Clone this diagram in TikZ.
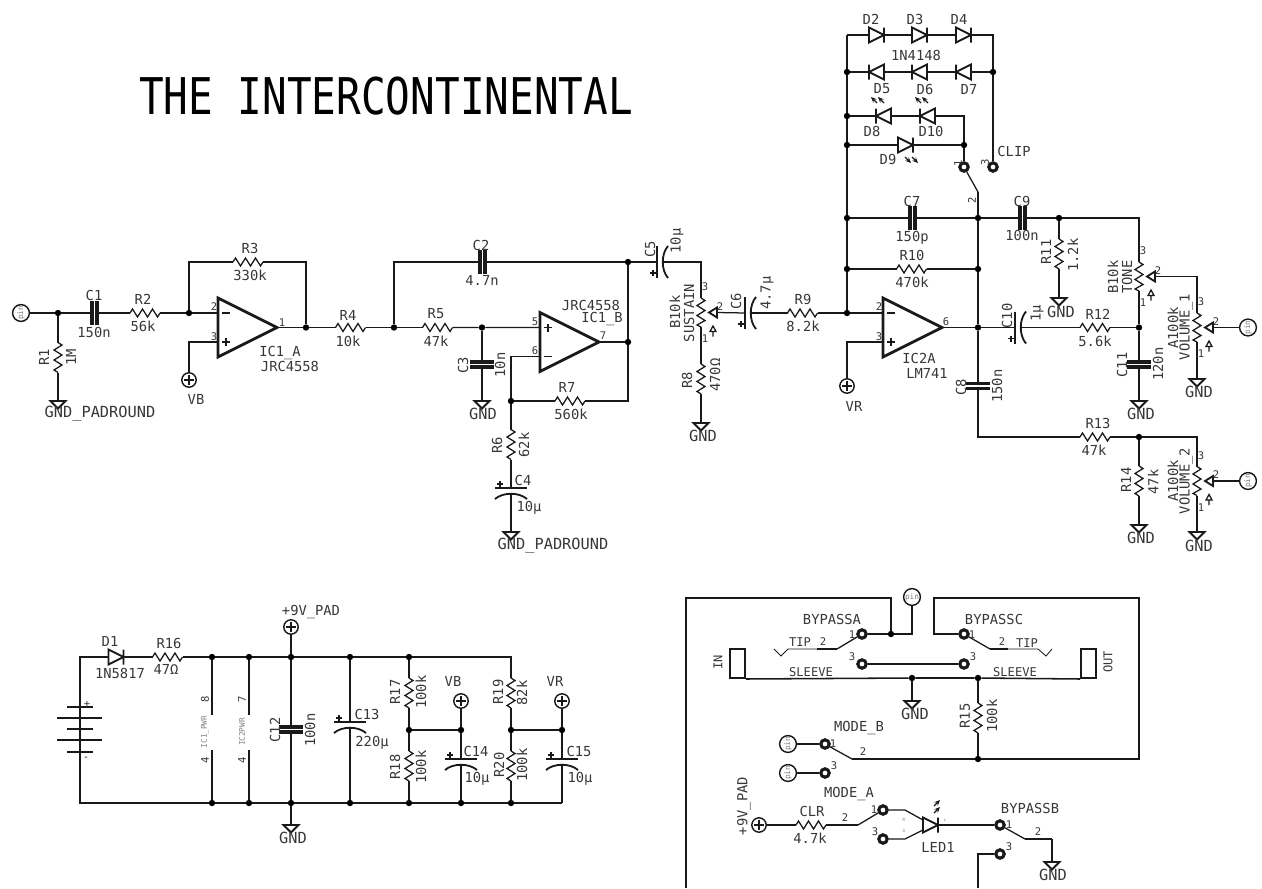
\documentclass[tikz,border=0pt]{standalone}
\usepackage{xcolor}
\usepackage{tikz}
\usepackage{fontspec}
\setmainfont{DejaVu Sans Mono}
\definecolor{wirecol}{RGB}{25, 25, 25}
\definecolor{textcol}{RGB}{55, 55, 55}
\usetikzlibrary{arrows.meta, positioning, calc}

\begin{document}
\begin{tikzpicture}[
        x=0.025cm, y=-0.025cm,
        wire/.style={draw=wirecol, line width=0.9pt},
        heavy/.style={draw=wirecol, line width=2.2pt},
        body/.style={draw=wirecol, line width=1.3pt},
        jn/.style={circle, fill=black, inner sep=0pt, minimum size=0.16cm},
        pad/.style={circle, draw=wirecol, line width=2.2pt, inner sep=0pt, minimum size=0.21cm},
        pinout/.style={circle, draw=wirecol, line width=1pt, fill=white, inner sep=0pt, minimum size=0.42cm, font=\fontsize{5.5}{6}\selectfont, text=gray, rotate=90},
        pwrpin/.style={circle, draw=wirecol, line width=1pt, inner sep=0pt, minimum size=0.36cm, path picture={\draw[wire, shorten <=1.5pt, shorten >=1.5pt] (path picture bounding box.west) -- (path picture bounding box.east); \draw[wire, shorten <=1.5pt, shorten >=1.5pt] (path picture bounding box.north) -- (path picture bounding box.south);}},
        lbl/.style={inner sep=0pt, text=textcol, font=\fontsize{9.8}{12}\selectfont},
        vlbl/.style={lbl, rotate=90},
        gndlbl/.style={inner sep=0pt, text=textcol, font=\fontsize{10.9}{13}\selectfont},
        pinlbl/.style={inner sep=0pt, text=textcol, font=\fontsize{7.5}{9}\selectfont},
        smalllbl/.style={inner sep=0pt, text=textcol, font=\fontsize{8.6}{10}\selectfont},
        faint/.style={inner sep=0pt, text=gray, font=\fontsize{5.5}{6}\selectfont},
        resi/.pic={\draw[wire] (-15,0) coordinate (-a) -- (-12.5,-4) -- (-7.5,4) -- (-2.5,-4) -- (2.5,4) -- (7.5,-4) -- (12.5,4) -- (15,0) coordinate (-b);},
        capa/.pic={\draw[heavy] (-2.5,-12) -- (-2.5,12) (2.5,-12) -- (2.5,12); \coordinate (-a) at (-2.5,0); \coordinate (-b) at (2.5,0);},
        ecapa/.pic={\draw[body] (-16,0) -- (16,0); \draw[body] (-16,11) .. controls (-8,4) and (8,4) .. (16,11); \draw[wire] (-14,-4) -- (-8,-4) (-11,-7) -- (-11,-1); \coordinate (-a) at (0,0); \coordinate (-b) at (0,6);},
        diod/.pic={\draw[body] (-7.5,-7.5) -- (-7.5,7.5) -- (7.5,0) -- cycle (7.5,-7.5) -- (7.5,7.5); \coordinate (-a) at (-7.5,0); \coordinate (-k) at (7.5,0);},
        ledarr/.pic={\draw[wire, -{Stealth[length=4pt, width=3.5pt]}] (-2,3) -- (-8,-3); \draw[wire, -{Stealth[length=4pt, width=3.5pt]}] (5,3) -- (-1,-3);},
        gndtri/.pic={\draw[body] (-7.5,0) -- (7.5,0) -- (0,7.5) -- cycle; \coordinate (-t) at (0,0);},
        ampl/.pic={\draw[draw=wirecol, line width=2pt] (0,-29.5) -- (59,0) -- (0,29.5) -- cycle; \draw[wire] (4,-14.5) -- (12,-14.5) (4,14.5) -- (12,14.5) (8,10.5) -- (8,18.5); \coordinate (-n) at (0,-14.5); \coordinate (-p) at (0,14.5); \coordinate (-o) at (59,0);},
        potm/.pic={\draw[wire] (0,-14.5) coordinate (-a) -- (4,-12) -- (-4,-7) -- (4,-2) -- (-4,3) -- (4,8) -- (-4,12.5) -- (0,14.5) coordinate (-b);
            \draw[body] (8,0) -- (16,-5) -- (16,5) -- cycle; \coordinate (-w) at (16,0);
            \draw[wire] (12,13.5) -- (15,19) -- (9,19) -- cycle (12,19) -- (12,24);
            \node[pinlbl] (-la) at (4,-25.5) {3}; \node[pinlbl] (-lb) at (4,26.5) {1}; \node[pinlbl] (-lc) at (19,-6) {2};}
    ]
        \useasboundingbox (0,0) rectangle (1262,888);
        \node[inner sep=0pt, text=black, font=\fontsize{36}{40}\selectfont] (title) at (386,96) {\scalebox{.81}[1]{THE INTERCONTINENTAL}};

        % input stage
        \node[pinout] (pina) at (21,313) {pin};
        \node[jn] (ja) at (58,313) {};
        \node[jn] (jb) at (189,313) {};
        \node[jn] (jc) at (306,327.5) {};
        \node[jn] (jd) at (394,327.5) {};
        \node[pwrpin] (vb) at (189,380) {};
        \pic (c1) at (94.5,313) {capa};
        \pic (r2) at (145,313) {resi};
        \pic (r3) at (248,262) {resi};
        \pic (r4) at (350.5,327.5) {resi};
        \pic[rotate=-90] (r1) at (58,357.5) {resi};
        \pic (g1) at (58,401) {gndtri};
        \pic (ic1a) at (218,327.5) {ampl};
        \draw[wire] (pina) -- (ja) -- (c1-a);
        \draw[wire] (c1-b) -- (r2-a);
        \draw[wire] (r2-b) -- (jb) -- (ic1a-n);
        \draw[wire] (ja) -- (r1-a);
        \draw[wire] (r1-b) -- (g1-t);
        \draw[wire] (jb) |- (r3-a);
        \draw[wire] (r3-b) -| (jc);
        \draw[wire] (ic1a-o) -- (jc) -- (r4-a);
        \draw[wire] (r4-b) -- (jd);
        \draw[wire] (vb) |- (ic1a-p);
        \node[lbl] (c1l) at (94,295) {C1};
        \node[lbl] (c1v) at (94,332) {150n};
        \node[lbl] (r2l) at (143,299) {R2};
        \node[lbl] (r2v) at (143,326) {56k};
        \node[lbl] (r3l) at (250,248) {R3};
        \node[lbl] (r3v) at (250,275) {330k};
        \node[lbl] (r4l) at (348,315) {R4};
        \node[lbl] (r4v) at (348,341) {10k};
        \node[vlbl] (r1l) at (44,357) {R1};
        \node[vlbl] (r1v) at (71,357) {1M};
        \node[gndlbl] (g1l) at (100,414) {GND\_PADROUND};
        \node[lbl] (vbl) at (196,399) {VB};
        \node[lbl] (ic1al) at (280,353) {IC1\_A};
        \node[lbl] (ic1av) at (290,366) {JRC4558};
        \node[pinlbl] (ic1aa) at (214,307) {2};
        \node[pinlbl] (ic1ab) at (214,337) {3};
        \node[pinlbl] (ic1ac) at (282,323) {1};

        % second stage
        \node[jn] (je) at (628,262) {};
        \node[jn] (jf) at (482,327.5) {};
        \node[jn] (jg) at (628,342) {};
        \node[jn] (jh) at (511,401) {};
        \pic (c2) at (482.5,262) {capa};
        \pic[rotate=90] (c5) at (657,262) {ecapa};
        \pic (potb) at (701,312.5) {potm};
        \pic (r5) at (437.5,327.5) {resi};
        \pic (r7) at (570,401) {resi};
        \pic[yscale=-1] (ic1b) at (540,342) {ampl};
        \pic[rotate=-90] (c3) at (482,364.5) {capa};
        \pic (g2) at (482,401) {gndtri};
        \pic[rotate=-90] (r6) at (511,444.5) {resi};
        \pic (c4) at (511,488) {ecapa};
        \pic (g3) at (511,532) {gndtri};
        \pic[rotate=-90] (r8) at (701,379) {resi};
        \pic (g4) at (701,423) {gndtri};
        \pic[rotate=90] (c6) at (745,313) {ecapa};
        \pic (r9) at (802.5,313) {resi};
        \draw[wire] (jd) |- (c2-a);
        \draw[wire] (c2-b) -- (je) -- (c5-a);
        \draw[wire] (c5-b) -| (potb-a);
        \draw[wire] (jd) -- (r5-a);
        \draw[wire] (r5-b) -- (jf) -- (ic1b-p);
        \draw[wire] (ic1b-o) -- (jg);
        \draw[wire] (je) -- (jg);
        \draw[wire] (jg) |- (r7-b);
        \draw[wire] (r7-a) -- (jh);
        \draw[wire] (jh) |- (ic1b-n);
        \draw[wire] (jf) -- (c3-a);
        \draw[wire] (c3-b) -- (g2-t);
        \draw[wire] (jh) -- (r6-a);
        \draw[wire] (r6-b) -- (c4-a);
        \draw[wire] (c4-b) -- (g3-t);
        \draw[wire] (potb-b) -- (r8-a);
        \draw[wire] (r8-b) -- (g4-t);
        \draw[wire] (potb-w) -- (c6-a);
        \draw[wire] (c6-b) -- (r9-a);
        \node[lbl] (c2l) at (481,245) {C2};
        \node[lbl] (c2v) at (482,280) {4.7n};
        \node[vlbl] (c5l) at (650,249) {C5};
        \node[vlbl] (c5v) at (677,241) {10µ};
        \node[vlbl] (potbl) at (675,312) {B10k};
        \node[vlbl] (potbv) at (689,313) {SUSTAIN};
        \node[lbl] (r5l) at (436,314) {R5};
        \node[lbl] (r5v) at (436,341) {47k};
        \node[vlbl] (c3l) at (463,365) {C3};
        \node[vlbl] (c3v) at (500,365) {10n};
        \node[gndlbl] (g2l) at (483,414) {GND};
        \node[lbl] (r7l) at (567,387) {R7};
        \node[lbl] (r7v) at (571,414) {560k};
        \node[vlbl] (r6l) at (497,445) {R6};
        \node[vlbl] (r6v) at (524,445) {62k};
        \node[lbl] (c4l) at (523,480) {C4};
        \node[lbl] (c4v) at (529,508) {10µ};
        \node[gndlbl] (g3l) at (553,546) {GND\_PADROUND};
        \node[lbl] (ic1bv) at (591,305) {JRC4558};
        \node[lbl] (ic1bl) at (602,319) {IC1\_B};
        \node[pinlbl] (ic1ba) at (535,322) {5};
        \node[pinlbl] (ic1bb) at (535,351) {6};
        \node[pinlbl] (ic1bc) at (603,336) {7};
        \node[vlbl] (r8l) at (687,380) {R8};
        \node[vlbl] (r8v) at (715,375) {470Ω};
        \node[gndlbl] (g4l) at (703,436) {GND};
        \node[vlbl] (c6l) at (736,301) {C6};
        \node[vlbl] (c6v) at (767,293) {4.7µ};
        \node[lbl] (r9l) at (803,299) {R9};
        \node[lbl] (r9v) at (803,326) {8.2k};

        % clipping diodes
        \coordinate (tl) at (847,35);
        \coordinate (tr) at (993,35);
        \coordinate (swc) at (978,192);
        \node[jn] (rla) at (847,72) {};
        \node[jn] (rlb) at (847,116) {};
        \node[jn] (rlc) at (847,145) {};
        \node[jn] (rld) at (847,218) {};
        \node[jn] (rle) at (847,269) {};
        \node[jn] (rlf) at (847,313) {};
        \node[jn] (rra) at (993,72) {};
        \node[jn] (jk) at (964,145) {};
        \node[pad] (clipa) at (964,167) {};
        \node[pad] (clipb) at (993,167) {};
        \pic (d2) at (876.5,35) {diod};
        \pic (d3) at (919.5,35) {diod};
        \pic (d4) at (963.5,35) {diod};
        \pic[rotate=180] (d5) at (876.5,72) {diod};
        \pic[rotate=180] (d6) at (919.5,72) {diod};
        \pic[rotate=180] (d7) at (963.5,72) {diod};
        \pic[rotate=180] (d8) at (883.5,116) {diod};
        \pic[rotate=180] (d10) at (927.5,116) {diod};
        \pic (d9) at (905.5,145) {diod};
        \pic (ld5) at (879,100) {ledarr};
        \pic (ld6) at (923,100) {ledarr};
        \pic[rotate=180] (ld9) at (910,160) {ledarr};
        \draw[wire] (tl) -- (rla) -- (rlb) -- (rlc) -- (rld) -- (rle) -- (rlf);
        \draw[wire] (tl) -- (d2-a);
        \draw[wire] (d2-k) -- (d3-a);
        \draw[wire] (d3-k) -- (d4-a);
        \draw[wire] (d4-k) -- (tr) -- (rra) -- (clipb);
        \draw[wire] (rla) -- (d5-k);
        \draw[wire] (d5-a) -- (d6-k);
        \draw[wire] (d6-a) -- (d7-k);
        \draw[wire] (d7-a) -- (rra);
        \draw[wire] (rlb) -- (d8-k);
        \draw[wire] (d8-a) -- (d10-k);
        \draw[wire] (d10-a) -| (jk);
        \draw[wire] (rlc) -- (d9-a);
        \draw[wire] (d9-k) -- (jk) -- (clipa);
        \draw[wire] (clipa) -- (swc);
        \node[lbl] (d2l) at (871,19) {D2};
        \node[lbl] (d3l) at (915,19) {D3};
        \node[lbl] (d4l) at (959,19) {D4};
        \node[lbl] (dv) at (916,55) {1N4148};
        \node[lbl] (d5l) at (882,89) {D5};
        \node[lbl] (d6l) at (925,89) {D6};
        \node[lbl] (d7l) at (969,89) {D7};
        \node[lbl] (d8l) at (872,131) {D8};
        \node[lbl] (d10l) at (931,131) {D10};
        \node[lbl] (d9l) at (888,159) {D9};
        \node[lbl] (clipl) at (1014,151) {CLIP};
        \node[pinlbl, rotate=90] (clipc) at (958,163) {1};
        \node[pinlbl, rotate=90] (clipd) at (985,162) {3};
        \node[pinlbl, rotate=90] (clipe) at (972,200) {2};

        % output stage
        \node[jn] (jl) at (978,218) {};
        \node[jn] (jm) at (978,269) {};
        \node[jn] (jn1) at (978,327.5) {};
        \node[jn] (jo) at (1059,218) {};
        \node[jn] (jp) at (1139,327.5) {};
        \node[jn] (jq) at (1139,437) {};
        \node[pwrpin] (vr) at (847,386) {};
        \node[pinout] (pinb) at (1248,327.5) {pin};
        \node[pinout] (pinc) at (1248,481) {pin};
        \pic (ic2) at (883,327.5) {ampl};
        \pic (c7) at (912.5,218) {capa};
        \pic (c9) at (1022.5,218) {capa};
        \pic (r10) at (911.5,269) {resi};
        \pic[rotate=-90] (c8) at (978,386) {capa};
        \pic[rotate=-90] (r11) at (1059,254) {resi};
        \pic (g5) at (1059,298) {gndtri};
        \pic (pott) at (1139,276.5) {potm};
        \pic (potv) at (1197,327.5) {potm};
        \pic (g7) at (1197,379) {gndtri};
        \pic[rotate=90] (c10) at (1015,327.5) {ecapa};
        \pic (r12) at (1095,327.5) {resi};
        \pic[rotate=-90] (c11) at (1139,364.5) {capa};
        \pic (g6) at (1139,401) {gndtri};
        \pic (r13) at (1095,437) {resi};
        \pic[rotate=-90] (r14) at (1139,481) {resi};
        \pic (g8) at (1139,525) {gndtri};
        \pic (potw) at (1197,481) {potm};
        \pic (g9) at (1197,532) {gndtri};
        \draw[wire] (rlf) -- (ic2-n);
        \draw[wire] (r9-b) -- (rlf);
        \draw[wire] (vr) |- (ic2-p);
        \draw[wire] (swc) -- (jl) -- (jm) -- (jn1) -- (c8-a);
        \draw[wire] (c8-b) |- (r13-a);
        \draw[wire] (rld) -- (c7-a);
        \draw[wire] (c7-b) -- (jl) -- (c9-a);
        \draw[wire] (c9-b) -- (jo);
        \draw[wire] (jo) -| (pott-a);
        \draw[wire] (jo) -- (r11-a);
        \draw[wire] (r11-b) -- (g5-t);
        \draw[wire] (rle) -- (r10-a);
        \draw[wire] (r10-b) -- (jm);
        \draw[wire] (ic2-o) -- (jn1) -- (c10-a);
        \draw[wire] (c10-b) -- (r12-a);
        \draw[wire] (r12-b) -- (jp);
        \draw[wire] (pott-b) -- (jp) -- (c11-a);
        \draw[wire] (c11-b) -- (g6-t);
        \draw[wire] (pott-w) -| (potv-a);
        \draw[wire] (potv-w) -- (pinb);
        \draw[wire] (potv-b) -- (g7-t);
        \draw[wire] (r13-b) -- (jq);
        \draw[wire] (jq) -| (potw-a);
        \draw[wire] (jq) -- (r14-a);
        \draw[wire] (r14-b) -- (g8-t);
        \draw[wire] (potw-b) -- (g9-t);
        \draw[wire] (potw-w) -- (pinc);
        \node[lbl] (c7l) at (912,201) {C7};
        \node[lbl] (c7v) at (912,238) {150p};
        \node[lbl] (c9l) at (1022,201) {C9};
        \node[lbl] (c9v) at (1022,235) {100n};
        \node[lbl] (r10l) at (912,255) {R10};
        \node[lbl] (r10v) at (912,282) {470k};
        \node[pinlbl] (ic2a) at (879,307) {2};
        \node[pinlbl] (ic2b) at (879,337) {3};
        \node[pinlbl] (ic2c) at (946,322) {6};
        \node[lbl] (ic2l) at (919,358) {IC2A};
        \node[lbl] (ic2v) at (927,373) {LM741};
        \node[lbl] (vrl) at (854,406) {VR};
        \node[vlbl] (c8l) at (961,387) {C8};
        \node[vlbl] (c8v) at (997,386) {150n};
        \node[vlbl] (r11l) at (1046,252) {R11};
        \node[vlbl] (r11v) at (1073,255) {1.2k};
        \node[gndlbl] (g5l) at (1061,312) {GND};
        \node[vlbl] (potta) at (1113,277) {B10k};
        \node[vlbl] (pottb) at (1127,277) {TONE};
        \node[vlbl] (potva) at (1173,328) {A100k};
        \node[vlbl] (potvb) at (1186,327) {VOLUME\_1};
        \node[gndlbl] (g7l) at (1199,392) {GND};
        \node[vlbl] (c10l) at (1007,316) {C10};
        \node[vlbl] (c10v) at (1037,313) {1µ};
        \node[lbl] (r12l) at (1098,314) {R12};
        \node[lbl] (r12v) at (1095,341) {5.6k};
        \node[vlbl] (c11l) at (1122,365) {C11};
        \node[vlbl] (c11v) at (1158,364) {120n};
        \node[gndlbl] (g6l) at (1141,414) {GND};
        \node[lbl] (r13l) at (1098,423) {R13};
        \node[lbl] (r13v) at (1094,450) {47k};
        \node[vlbl] (r14l) at (1126,480) {R14};
        \node[vlbl] (r14v) at (1153,482) {47k};
        \node[gndlbl] (g8l) at (1141,538) {GND};
        \node[vlbl] (potwa) at (1173,481) {A100k};
        \node[vlbl] (potwb) at (1186,481) {VOLUME\_2};
        \node[gndlbl] (g9l) at (1199,546) {GND};

        % power supply
        \coordinate (ptl) at (80,657);
        \coordinate (pbl) at (80,803);
        \coordinate (ptr) at (511,657);
        \coordinate (pbr) at (562,803);
        \coordinate (bata) at (80,685);
        \coordinate (batb) at (80,773);
        \node[jn] (ta) at (212,657) {};
        \node[jn] (tb) at (249,657) {};
        \node[jn] (tc) at (291,657) {};
        \node[jn] (td) at (350,657) {};
        \node[jn] (te) at (409,657) {};
        \node[jn] (ba) at (212,803) {};
        \node[jn] (bb) at (249,803) {};
        \node[jn] (bc) at (291,803) {};
        \node[jn] (bd) at (350,803) {};
        \node[jn] (be) at (409,803) {};
        \node[jn] (bf) at (461,803) {};
        \node[jn] (bg) at (511,803) {};
        \node[jn] (ma) at (409,730) {};
        \node[jn] (mb) at (461,730) {};
        \node[jn] (mc) at (511,730) {};
        \node[jn] (md) at (562,730) {};
        \node[pwrpin] (pv) at (291,627) {};
        \node[pwrpin] (vbp) at (461,701) {};
        \node[pwrpin] (vrp) at (562,701) {};
        \coordinate (ua) at (212,715);
        \coordinate (ub) at (212,750);
        \coordinate (uc) at (249,715);
        \coordinate (ud) at (249,750);
        \pic (d1) at (116,657) {diod};
        \pic (r16) at (167.5,657) {resi};
        \pic[rotate=-90] (c12) at (291,729.5) {capa};
        \pic (g10) at (291,825) {gndtri};
        \pic (c13) at (350,722) {ecapa};
        \pic[rotate=-90] (r17) at (409,693) {resi};
        \pic[rotate=-90] (r18) at (409,766) {resi};
        \pic[rotate=-90] (r19) at (511,693) {resi};
        \pic[rotate=-90] (r20) at (511,766) {resi};
        \pic (c14) at (461,759) {ecapa};
        \pic (c15) at (562,759) {ecapa};
        \draw[wire] (bata) -- (ptl) -- (d1-a);
        \draw[wire] (d1-k) -- (r16-a);
        \draw[wire] (r16-b) -- (ta) -- (tb) -- (tc) -- (td) -- (te) -- (ptr) -- (r19-a);
        \draw[wire] (batb) -- (pbl) -- (ba) -- (bb) -- (bc) -- (bd) -- (be) -- (bf) -- (bg) -- (pbr);
        \draw[wire] (ta) -- (ua);
        \draw[wire] (ub) -- (ba);
        \draw[wire] (tb) -- (uc);
        \draw[wire] (ud) -- (bb);
        \draw[wire] (pv) -- (tc) -- (c12-a);
        \draw[wire] (c12-b) -- (bc) -- (g10-t);
        \draw[wire] (td) -- (c13-a);
        \draw[wire] (c13-b) -- (bd);
        \draw[wire] (te) -- (r17-a);
        \draw[wire] (r17-b) -- (ma) -- (r18-a);
        \draw[wire] (r18-b) -- (be);
        \draw[wire] (ma) -- (mb);
        \draw[wire] (vbp) -- (mb) -- (c14-a);
        \draw[wire] (c14-b) -- (bf);
        \draw[wire] (r19-b) -- (mc) -- (r20-a);
        \draw[wire] (r20-b) -- (bg);
        \draw[wire] (mc) -- (md);
        \draw[wire] (vrp) -- (md) -- (c15-a);
        \draw[wire] (c15-b) -- (pbr);
        \draw[draw=wirecol, line width=1.6pt] (bata) -- (batb);
        \draw[draw=wirecol, line width=1.4pt] (67,707) -- (93,707) (57,718) -- (102,718) (67,729) -- (93,729) (57,740) -- (102,740) (67,752) -- (93,752);
        \node[pinlbl] (batp) at (87,704) {+};
        \node[pinlbl] (batm) at (86,759) {-};
        \node[lbl] (d1l) at (110,641) {D1};
        \node[lbl] (d1v) at (120,673) {1N5817};
        \node[lbl] (r16l) at (169,643) {R16};
        \node[lbl] (r16v) at (166,669) {47Ω};
        \node[faint, rotate=90] (ual) at (205,732) {IC1\_PWR};
        \node[pinlbl, rotate=90] (uam) at (205,699) {8};
        \node[pinlbl, rotate=90] (uan) at (205,760) {4};
        \node[faint, rotate=90] (ubl) at (242,732) {IC2PWR};
        \node[pinlbl, rotate=90] (ubm) at (242,699) {7};
        \node[pinlbl, rotate=90] (ubn) at (242,760) {4};
        \node[lbl] (pvl) at (311,612) {+9V\_PAD};
        \node[vlbl] (c12l) at (275,730) {C12};
        \node[vlbl] (c12v) at (310,730) {100n};
        \node[gndlbl] (g10l) at (293,838) {GND};
        \node[lbl] (c13l) at (367,714) {C13};
        \node[lbl] (c13v) at (372,743) {220µ};
        \node[vlbl] (r17l) at (395,692) {R17};
        \node[vlbl] (r17v) at (421,692) {100k};
        \node[vlbl] (r18l) at (395,767) {R18};
        \node[vlbl] (r18v) at (421,767) {100k};
        \node[lbl] (vbpl) at (453,681) {VB};
        \node[lbl] (c14l) at (476,751) {C14};
        \node[lbl] (c14v) at (477,779) {10µ};
        \node[vlbl] (r19l) at (498,692) {R19};
        \node[vlbl] (r19v) at (522,693) {82k};
        \node[vlbl] (r20l) at (499,765) {R20};
        \node[vlbl] (r20v) at (522,765) {100k};
        \node[lbl] (vrpl) at (555,681) {VR};
        \node[lbl] (c15l) at (579,751) {C15};
        \node[lbl] (c15v) at (580,779) {10µ};

        % bypass switching
        \coordinate (boxa) at (686,888);
        \coordinate (boxb) at (686,598);
        \coordinate (boxc) at (891,598);
        \coordinate (boxd) at (934,598);
        \coordinate (boxe) at (1139,598);
        \coordinate (boxf) at (1139,759);
        \coordinate (boxg) at (978,888);
        \coordinate (tipa) at (817,649);
        \coordinate (tipb) at (837,649);
        \coordinate (tipc) at (788,649);
        \coordinate (tipd) at (781,656);
        \coordinate (tipe) at (774,649);
        \coordinate (tipf) at (1008,649);
        \coordinate (tipg) at (990,649);
        \coordinate (tiph) at (1038,649);
        \coordinate (tipi) at (1046,656);
        \coordinate (tipj) at (1052,649);
        \coordinate (moda) at (852,759);
        \coordinate (modb) at (869,759);
        \coordinate (clra) at (839,825);
        \coordinate (clrb) at (858,825);
        \coordinate (leda) at (905,810);
        \coordinate (ledb) at (905,839);
        \coordinate (ledc) at (923,820);
        \coordinate (ledd) at (923,830);
        \coordinate (byp) at (1025,839);
        \coordinate (bypb) at (1052,839);
        \node[pinout, rotate=-90] (pind) at (912,597) {pin};
        \node[jn] (ka) at (891,634) {};
        \node[pad] (bapa) at (862,634) {};
        \node[pad] (bapb) at (862,664) {};
        \node[pad] (bcpa) at (964,634) {};
        \node[pad] (bcpb) at (964,664) {};
        \node[jn] (kb) at (912,678) {};
        \node[jn] (kc) at (978,678) {};
        \node[jn] (kd) at (978,759) {};
        \node[draw=wirecol, line width=1.4pt, minimum width=0.375cm, minimum height=0.725cm, inner sep=0pt] (jackin) at (737.5,663.5) {};
        \node[draw=wirecol, line width=1.4pt, minimum width=0.375cm, minimum height=0.725cm, inner sep=0pt] (jackout) at (1088.5,663.5) {};
        \node[pinout] (pine) at (788,744) {pin};
        \node[pinout] (pinf) at (788,773) {pin};
        \node[pad] (mbpa) at (825,744) {};
        \node[pad] (mbpb) at (825,773) {};
        \node[pwrpin] (pwb) at (759,825) {};
        \node[pad] (mapa) at (883,810) {};
        \node[pad] (mapb) at (883,839) {};
        \node[pad] (bbpa) at (1000,825) {};
        \node[pad] (bbpb) at (1000,854) {};
        \pic (g11) at (912,701) {gndtri};
        \pic[rotate=-90] (r15) at (978,718) {resi};
        \pic (clr) at (811,825) {resi};
        \pic (led1) at (930.5,825) {diod};
        \pic[rotate=-90] (ld1) at (937,808) {ledarr};
        \pic (g12) at (1052,862) {gndtri};
        \draw[wire] (boxa) -- (boxb) -- (boxc) -- (ka);
        \draw[wire] (bcpa) -| (boxd) -- (boxe) -- (boxf) -- (kd);
        \draw[wire] (bapa) -- (ka) -| (pind);
        \draw[wire] (bapb) -- (bcpb);
        \draw[wire] (bapa) -- (tipb);
        \draw[heavy, line width=1.2pt] (tipb) -- (tipa);
        \draw[wire, line width=0.6pt] (tipa) -- (tipc) -- (tipd) -- (tipe);
        \draw[wire] (bcpa) -- (tipg);
        \draw[heavy, line width=1.2pt] (tipg) -- (tipf);
        \draw[wire, line width=0.6pt] (tipf) -- (tiph) -- (tipi) -- (tipj);
        \draw[wire, line width=1.1pt] (jackin.south east) -- (kb) -- (kc) -- (jackout.south west);
        \draw[wire] (kb) -- (g11-t);
        \draw[wire] (kc) -- (r15-a);
        \draw[wire] (r15-b) -- (kd);
        \draw[wire] (pine) -- (mbpa);
        \draw[wire] (pinf) -- (mbpb);
        \draw[wire] (mbpa) -- (moda);
        \draw[heavy, line width=1.2pt] (moda) -- (modb);
        \draw[wire] (modb) -- (kd);
        \draw[wire] (pwb) -- (clr-a);
        \draw[wire] (clr-b) -- (clra);
        \draw[heavy, line width=1.2pt] (clra) -- (clrb);
        \draw[wire] (clrb) -- (mapa);
        \draw[wire] (mapa) -- (leda) -- (ledc);
        \draw[wire] (mapb) -- (ledb) -- (ledd);
        \draw[wire] (led1-k) -- (bbpa);
        \draw[wire] (bbpa) -- (byp);
        \draw[heavy, line width=1.2pt] (byp) -- (bypb);
        \draw[wire] (bypb) -- (g12-t);
        \draw[wire] (boxg) |- (bbpb);
        \node[lbl] (bal) at (832,619) {BYPASSA};
        \node[lbl] (bcl) at (994,619) {BYPASSC};
        \node[pinlbl] (baa) at (852,635) {1};
        \node[pinlbl] (bab) at (823,642) {2};
        \node[pinlbl] (bac) at (852,657) {3};
        \node[pinlbl] (bca) at (972,635) {1};
        \node[pinlbl] (bcb) at (1002,642) {2};
        \node[pinlbl] (bcc) at (973,657) {3};
        \node[smalllbl] (tipl) at (800,642) {TIP};
        \node[smalllbl] (tipm) at (1027,643) {TIP};
        \node[smalllbl] (slva) at (811,672) {SLEEVE};
        \node[smalllbl] (slvb) at (1015,672) {SLEEVE};
        \node[smalllbl, rotate=90] (jackl) at (718,662) {IN};
        \node[smalllbl, rotate=90] (jackm) at (1108,662) {OUT};
        \node[gndlbl] (g11l) at (915,714) {GND};
        \node[vlbl] (r15l) at (965,716) {R15};
        \node[vlbl] (r15v) at (992,716) {100k};
        \node[lbl] (mbl) at (859,728) {MODE\_B};
        \node[pinlbl] (mba) at (833,744) {1};
        \node[pinlbl] (mbb) at (863,752) {2};
        \node[pinlbl] (mbc) at (834,766) {3};
        \node[lbl] (mal) at (849,794) {MODE\_A};
        \node[vlbl] (pwl) at (744,806) {+9V\_PAD};
        \node[lbl] (clrl) at (812,811) {CLR};
        \node[lbl] (clrv) at (810,838) {4.7k};
        \node[pinlbl] (maa) at (874,810) {1};
        \node[pinlbl] (mab) at (845,818) {2};
        \node[pinlbl] (mac) at (875,832) {3};
        \node[faint, font=\fontsize{3}{4}\selectfont] (ledr) at (904,820) {R};
        \node[faint, font=\fontsize{3}{4}\selectfont] (ledg) at (904,831) {G};
        \node[faint, font=\fontsize{3}{4}\selectfont] (ledk) at (945,820) {c};
        \node[lbl] (led1l) at (938,847) {LED1};
        \node[lbl] (bbl) at (1030,808) {BYPASSB};
        \node[pinlbl] (bba) at (1009,825) {1};
        \node[pinlbl] (bbb) at (1038,832) {2};
        \node[pinlbl] (bbc) at (1009,847) {3};
        \node[gndlbl] (g12l) at (1053,875) {GND};
    \end{tikzpicture}
\end{document}
